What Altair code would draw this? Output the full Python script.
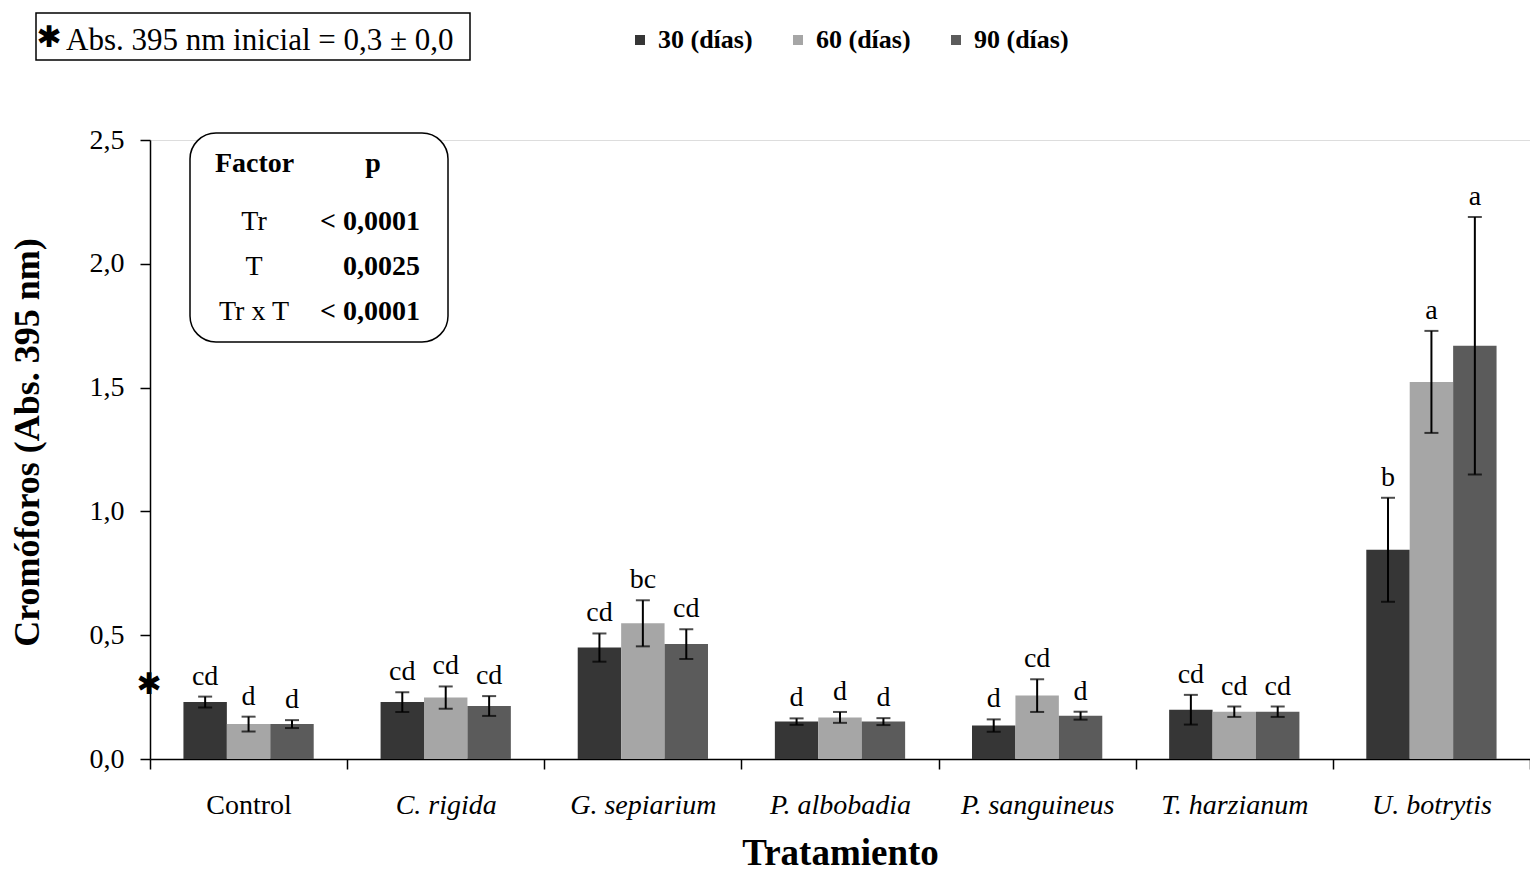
import altair as alt
import pandas as pd

# ---------------- data ----------------
treatments = ["Control", "C. rigida", "G. sepiarium", "P. albobadia",
              "P. sanguineus", "T. harzianum", "U. botrytis"]
series = ["30 (días)", "60 (días)", "90 (días)"]
colors = ["#363636", "#a6a6a6", "#5b5b5b"]

mean_30 = [0.230, 0.230, 0.450, 0.151, 0.135, 0.199, 0.845]
mean_60 = [0.141, 0.248, 0.548, 0.168, 0.256, 0.191, 1.523]
mean_90 = [0.141, 0.214, 0.464, 0.151, 0.175, 0.191, 1.669]

err_30 = [0.022, 0.040, 0.057, 0.013, 0.025, 0.060, 0.210]
err_60 = [0.030, 0.045, 0.093, 0.022, 0.066, 0.021, 0.206]
err_90 = [0.016, 0.040, 0.060, 0.014, 0.016, 0.021, 0.520]

letters_30 = ["cd", "cd", "cd", "d", "d", "cd", "b"]
letters_60 = ["d", "cd", "bc", "d", "cd", "cd", "a"]
letters_90 = ["d", "cd", "cd", "d", "d", "cd", "a"]

y_ticks = [0.0, 0.5, 1.0, 1.5, 2.0, 2.5]
initial_abs = 0.3
note_text = "Abs. 395 nm inicial = 0,3 ± 0,0"

factors = ["Tr", "T", "Tr x T"]
p_values = ["< 0,0001", "0,0025", "< 0,0001"]

# ---------------- table ----------------
rows = []
for s, means, errs, lets in zip(series, [mean_30, mean_60, mean_90],
                                [err_30, err_60, err_90],
                                [letters_30, letters_60, letters_90]):
    for t, m, e, l in zip(treatments, means, errs, lets):
        rows.append({"Tratamiento": t, "Serie": s, "media": m,
                     "lo": m - e, "hi": m + e, "letra": l})
df = pd.DataFrame(rows)

SERIF = "Liberation Serif"
W, H = 1380, 619

base = alt.Chart(df).encode(
    x=alt.X("Tratamiento:N", sort=treatments,
            scale=alt.Scale(paddingInner=0, paddingOuter=0),
            axis=alt.Axis(
                title="Tratamiento", labelAngle=0, tickBand="extent",
                tickSize=10, tickWidth=1.5, tickColor="black",
                domainColor="black", domainWidth=1.5,
                labelFont=SERIF, labelFontSize=28, labelColor="black",
                labelFontStyle={"condition": {"test": "datum.value == 'Control'",
                                              "value": "normal"},
                                "value": "italic"},
                labelPadding=22,
                titleFont=SERIF, titleFontSize=37, titleFontWeight="bold",
                titleColor="black", titleBaseline="alphabetic", titleY=105,
            )),
    xOffset=alt.XOffset("Serie:N", sort=series,
                        scale=alt.Scale(paddingInner=0, paddingOuter=0.77)),
)

bars = base.mark_bar().encode(
    y=alt.Y("media:Q", scale=alt.Scale(domain=[0, 2.5], nice=False, zero=True),
            axis=alt.Axis(
                title="Cromóforos (Abs. 395 nm)", values=y_ticks,
                labelExpr="replace(format(datum.value, '.1f'), '.', ',')",
                grid=False, tickSize=10, tickWidth=1.5, tickColor="black",
                domainColor="black", domainWidth=1.5,
                labelFont=SERIF, labelFontSize=28, labelColor="black",
                labelPadding=16,
                titleFont=SERIF, titleFontSize=36, titleFontWeight="bold",
                titleColor="black", titleAngle=270, titleAlign="center",
                titleBaseline="top", titleX=-140, titleY=302,
            )),
    color=alt.Color("Serie:N", sort=series,
                    scale=alt.Scale(domain=series, range=colors),
                    legend=alt.Legend(
                        title=None, orient="none", legendX=477, legendY=-113,
                        direction="horizontal", symbolType="square",
                        symbolSize=100, symbolStrokeWidth=0,
                        labelFont=SERIF, labelFontSize=26,
                        labelFontWeight="bold", labelColor="black",
                        labelOffset=5, columnPadding=32)),
)

rules = base.mark_rule(color="black", strokeWidth=2).encode(
    y="lo:Q", y2="hi:Q")
cap_lo = base.mark_tick(color="black", thickness=2, size=14).encode(y="lo:Q")
cap_hi = base.mark_tick(color="black", thickness=2, size=14).encode(y="hi:Q")
letters = base.mark_text(font=SERIF, fontSize=28, baseline="alphabetic",
                         dy=-12, color="black").encode(y="hi:Q", text="letra:N")


def txt(s, x, y, **kw):
    return alt.Chart(pd.DataFrame({"t": [s]})).mark_text(**kw).encode(
        x=alt.value(x), y=alt.value(y), text="t:N")


def box(x, x2, y, y2, **kw):
    return alt.Chart(pd.DataFrame({"t": [0]})).mark_rect(**kw).encode(
        x=alt.value(x), x2=alt.value(x2), y=alt.value(y), y2=alt.value(y2))


# asterisk marking the initial absorbance on the y axis
star_axis = alt.Chart(pd.DataFrame({"v": [initial_abs]})).mark_text(
    text="✱", font="DejaVu Sans", fontSize=30, color="black",
    baseline="middle").encode(x=alt.value(-1), y="v:Q")

# note box (top-left)
note_box = box(-114, 320, -127, -80, fill="white", stroke="black",
               strokeWidth=1.5)
note_star = txt("✱", -101, -102, font="DejaVu Sans", fontSize=30,
                color="black", baseline="middle")
note_lbl = txt(note_text, -84, -90, font=SERIF, fontSize=31, color="black",
               align="left", baseline="alphabetic")

# inset table
inset_box = box(40, 298, -7, 202, fill="white", stroke="black",
                strokeWidth=1.5, cornerRadius=26)
layers = [inset_box,
          txt("Factor", 65, 32, font=SERIF, fontSize=28, fontWeight="bold",
              color="black", align="left", baseline="alphabetic"),
          txt("p", 223, 32, font=SERIF, fontSize=28, fontWeight="bold",
              color="black", align="center", baseline="alphabetic")]
for i, (f, p) in enumerate(zip(factors, p_values)):
    yb = 90 + 45 * i
    layers.append(txt(f, 104, yb, font=SERIF, fontSize=28, color="black",
                      align="center", baseline="alphabetic"))
    layers.append(txt(p, 270, yb, font=SERIF, fontSize=28, fontWeight="bold",
                      color="black", align="right", baseline="alphabetic"))

chart = alt.layer(
    bars, rules, cap_lo, cap_hi, letters, star_axis,
    note_box, note_star, note_lbl, *layers
).properties(
    width=W, height=H,
    autosize=alt.AutoSizeParams(type="none"),
    padding={"left": 142, "top": 132, "right": 0, "bottom": 113},
).configure_view(stroke=None).configure(background="white")

chart.save("out.html", embed_options={"renderer": "svg", "actions": False})
